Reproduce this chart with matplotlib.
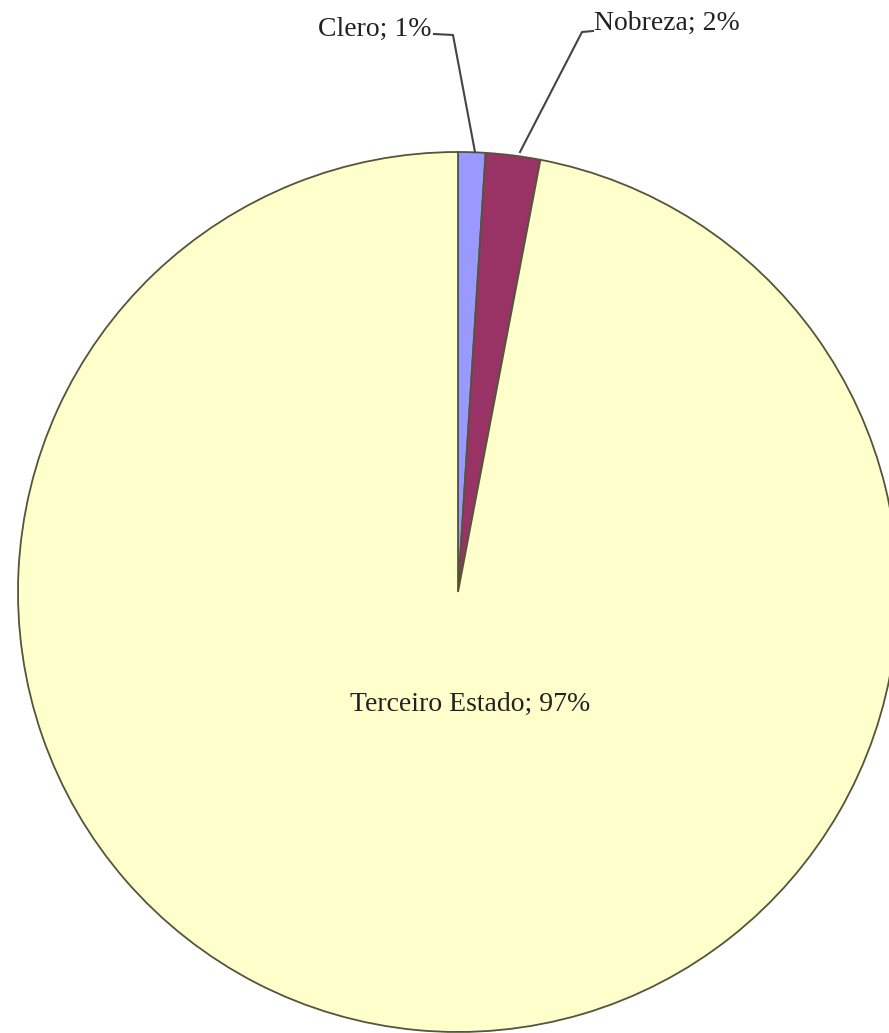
import matplotlib
matplotlib.use("Agg")
import matplotlib.pyplot as plt

categories = ["Clero", "Nobreza", "Terceiro Estado"]
values = [1, 2, 97]
labels = ["Clero; 1%", "Nobreza; 2%", "Terceiro Estado; 97%"]
colors = ["#9999FF", "#993366", "#FFFFCC"]

W, H = 889, 1033
fig = plt.figure(figsize=(W / 100, H / 100), dpi=100)
ax = fig.add_axes([0, 0, 1, 1])

def py(y):
    return H - y

cx, cy, r = 458, py(592), 440
ax.pie(values, colors=colors, startangle=90, counterclock=False,
       center=(cx, cy), radius=r, frame=True,
       wedgeprops=dict(edgecolor="#55553a", linewidth=1.3))
ax.set_xlim(0, W)
ax.set_ylim(0, H)
ax.set_aspect("equal")
ax.axis("off")

font = dict(family="Liberation Serif", fontsize=20, color="#222222")

# Clero label + leader
ax.text(431, py(29), labels[0], ha="right", va="center", **font)
ax.plot([434, 453, 475], [py(34), py(35), py(152)], color="#444444", lw=1.5)

# Nobreza label + leader
ax.text(594, py(23), labels[1], ha="left", va="center", **font)
ax.plot([593, 582, 520], [py(31), py(32), py(152)], color="#444444", lw=1.5)

# Terceiro Estado label
ax.text(470, py(704), labels[2], ha="center", va="center", **font)

fig.savefig("out.png", dpi=100, facecolor="white")
